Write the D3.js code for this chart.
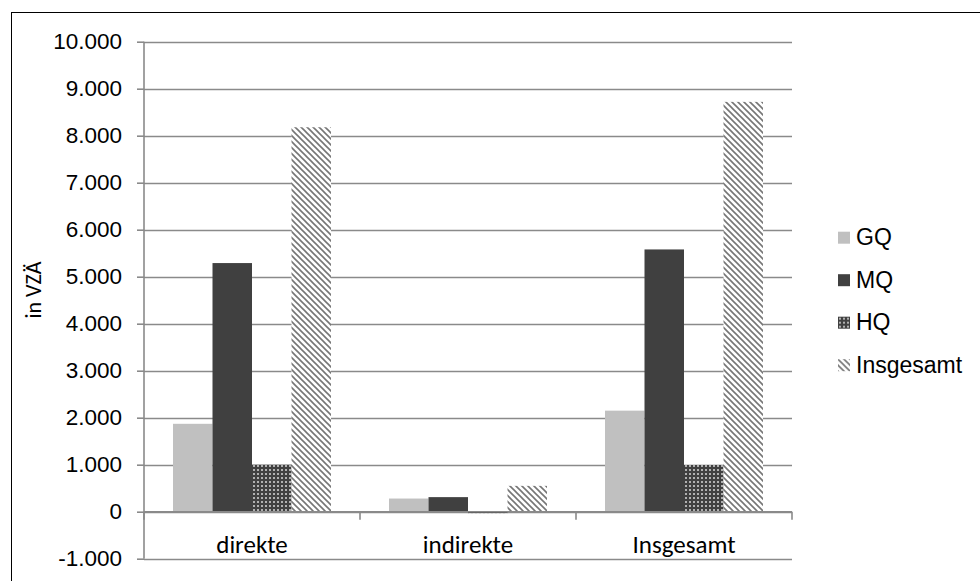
<!DOCTYPE html>
<html><head><meta charset="utf-8">
<script src="https://cdn.jsdelivr.net/npm/d3@7"></script>
<style>body{margin:0;background:#fff}svg{display:block}</style>
</head><body>
<script>
const categories = ["direkte", "indirekte", "Insgesamt"];
const seriesNames = ["GQ", "MQ", "HQ", "Insgesamt"];
const GQ = [1870, 280, 2150];
const MQ = [5290, 310, 5580];
const HQ = [1000, -30, 995];
const Insgesamt = [8180, 550, 8720];
const seriesValues = [GQ, MQ, HQ, Insgesamt];
const yTicks = [-1000, 0, 1000, 2000, 3000, 4000, 5000, 6000, 7000, 8000, 9000, 10000];

const W = 980, H = 581;
const sansA = "'Liberation Sans', Arial, sans-serif";
const sansC = "Carlito, Lato, sans-serif";
const svg = d3.select("body").append("svg").attr("width", W).attr("height", H);
const defs = svg.append("defs");
// HQ checker pattern
const pHQ = defs.append("pattern").attr("id", "pHQ").attr("patternUnits", "userSpaceOnUse")
  .attr("width", 4).attr("height", 4);
pHQ.append("rect").attr("width", 4).attr("height", 4).attr("fill", "#404040");
pHQ.append("rect").attr("x", 1).attr("y", 1).attr("width", 2).attr("height", 2).attr("fill", "#b0b0b0");
// Insgesamt diagonal stripes
const pIns = defs.append("pattern").attr("id", "pIns").attr("patternUnits", "userSpaceOnUse")
  .attr("width", 6).attr("height", 6);
pIns.append("rect").attr("width", 6).attr("height", 6).attr("fill", "#fff");
pIns.append("path").attr("d", "M-1,-1 L7,7 M-4,2 L2,8 M4,-2 L8,2")
  .attr("stroke", "#767676").attr("stroke-width", 1.6);
const fills = ["#c0c0c0", "#404040", "url(#pHQ)", "url(#pIns)"];

// outer border
svg.append("rect").attr("x", 11.5).attr("y", 12.5).attr("width", 1000).attr("height", 600)
  .attr("fill", "none").attr("stroke", "#000").attr("stroke-width", 1);

const left = 144, right = 792;
const y = d3.scaleLinear().domain([-1000, 10000]).range([558.7, 41.7]);
const x0 = d3.scaleBand().domain(categories).range([left, right]).paddingInner(0).paddingOuter(0);
const x1 = d3.scaleBand().domain(seriesNames).range([29, x0.bandwidth() - 29]);

const gridC = "#8a8a8a";
// gridlines
svg.append("g").selectAll("line").data(yTicks).join("line")
  .attr("x1", left).attr("x2", right)
  .attr("y1", d => Math.round(y(d)) + 0.5).attr("y2", d => Math.round(y(d)) + 0.5)
  .attr("stroke", gridC).attr("stroke-width", 1.6);

// y axis
const loc = d3.formatLocale({decimal: ",", thousands: ".", grouping: [3], currency: ["", "€"], minus: "-"});
const fmt = loc.format(",");
const yAxis = svg.append("g").attr("transform", `translate(${left},0)`)
  .call(d3.axisLeft(y).tickValues(yTicks).tickFormat(fmt).tickSize(7).tickPadding(15));
yAxis.select(".domain").attr("stroke", gridC).attr("stroke-width", 1.6).attr("d", `M0,${y(-1000)}V${y(10000)}`);
yAxis.selectAll(".tick line").attr("stroke", gridC).attr("stroke-width", 1.6);
yAxis.selectAll(".tick text").attr("font-family", sansA)
  .attr("font-size", 22.5).attr("fill", "#000");

// bars
const groups = svg.append("g").selectAll("g").data(categories).join("g")
  .attr("transform", c => `translate(${x0(c)},0)`);
groups.selectAll("rect").data((c, ci) => seriesNames.map((s, si) => ({s, si, v: seriesValues[si][ci]})))
  .join("rect")
  .attr("x", d => x1(d.s)).attr("width", x1.bandwidth())
  .attr("y", d => y(Math.max(0, d.v))).attr("height", d => Math.abs(y(d.v) - y(0)))
  .attr("fill", d => fills[d.si]);

// x axis at 0
const xAxis = svg.append("g").attr("transform", `translate(0,${y(0)})`)
  .call(d3.axisBottom(x0).tickSize(0).tickFormat(""));
xAxis.select(".domain").attr("stroke", gridC).attr("stroke-width", 1.6).attr("d", `M${left},0H${right}`);
xAxis.selectAll(".tick").remove();
svg.append("g").selectAll("line").data(d3.range(categories.length + 1)).join("line")
  .attr("x1", i => left + i * x0.bandwidth()).attr("x2", i => left + i * x0.bandwidth())
  .attr("y1", y(0)).attr("y2", y(0) + 8).attr("stroke", gridC).attr("stroke-width", 1.6);
// category labels
svg.append("g").selectAll("text").data(categories).join("text")
  .attr("x", c => x0(c) + x0.bandwidth() / 2).attr("y", 553)
  .attr("text-anchor", "middle").attr("font-family", sansC)
  .attr("font-size", 25).attr("fill", "#000").text(c => c);

// y label
svg.append("text").attr("transform", "translate(41,290) rotate(-90)")
  .attr("text-anchor", "middle").attr("font-family", sansC)
  .attr("font-size", 22).attr("fill", "#000").text("in VZÄ");

// legend
const lg = svg.append("g").selectAll("g").data(seriesNames).join("g")
  .attr("transform", (d, i) => `translate(838,${231.7 + i * 42.5})`);
lg.append("rect").attr("width", 12).attr("height", 12).attr("fill", (d, i) => fills[i]);
lg.append("text").attr("x", 18).attr("y", 13.5).attr("font-family", sansA)
  .attr("font-size", 23).attr("fill", "#000").text(d => d);
</script>
</body></html>
